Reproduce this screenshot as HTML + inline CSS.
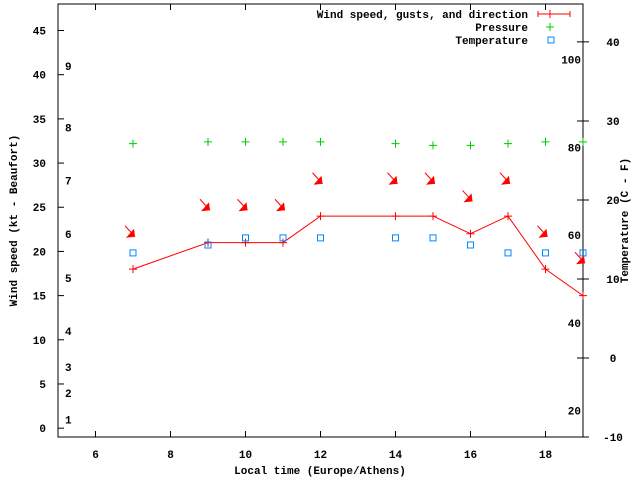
<!DOCTYPE html>
<html><head><meta charset="utf-8"><style>
body{margin:0;background:#fff}
svg text{font-family:"Liberation Mono",monospace;font-size:11px;font-weight:bold;fill:#000}
</style></head><body>
<svg id="chart" width="640" height="480" xmlns="http://www.w3.org/2000/svg">
<rect x="0" y="0" width="640" height="480" fill="#fff"/>
<g id="axes"></g><g id="marks"></g><g id="legend"></g>
</svg>
<script>
const times=[7,9,10,11,12,14,15,16,17,18,19];
const windSpeed=[18,21,21,21,24,24,24,22,24,18,15];
const gusts=[22,25,25,25,28,28,28,26,28,22,19];
const pressure=[32.2,32.4,32.4,32.4,32.4,32.2,32.0,32.0,32.2,32.4,32.4];
const temperature=[13.3,14.3,15.2,15.2,15.2,15.2,15.2,14.3,13.3,13.3,13.3];
const xTicks=[6,8,10,12,14,16,18];
const yTicks=[0,5,10,15,20,25,30,35,40,45];
const tTicks=[-10,0,10,20,30,40];
const beaufortLabels=[1,2,3,4,5,6,7,8,9];
const beaufortSpeeds=[1,4,6.9,11,17,22,28,34,41];
const fLabels=[20,40,60,80,100];

const L=58,R=583,T=4,B=437;
const X=v=>L+(v-5)/(19-5)*(R-L);
const Y=v=>B-(v+1)/(48+1)*(B-T);
const TY=v=>B-(v+10)/(44.8+10)*(B-T);
const NS="http://www.w3.org/2000/svg";
function mk(tag,attrs,parent,txt){const e=document.createElementNS(NS,tag);for(const k in attrs)e.setAttribute(k,attrs[k]);if(txt!==undefined)e.textContent=txt;parent.appendChild(e);return e;}
const ax=document.getElementById('axes'),mg=document.getElementById('marks'),lg=document.getElementById('legend');

let f=mk('rect',{x:L,y:T,width:R-L,height:B-T,fill:'none',stroke:'#000','stroke-width':1},ax);


xTicks.forEach(v=>{
  let t=mk('path',{d:`M${X(v)},${B}v-6M${X(v)},${T}v6`,stroke:'#000'},ax);
  
  
  let l=mk('text',{x:X(v),y:B+21,'text-anchor':'middle'},ax,v);
  
  
});
yTicks.forEach(v=>{
  let t=mk('path',{d:`M${L},${Y(v)}h6`,stroke:'#000'},ax);
  
  
  let l=mk('text',{x:L-12,y:Y(v)+4,'text-anchor':'end'},ax,v);
  
  
});
tTicks.forEach(v=>{
  let t=mk('path',{d:`M${R},${TY(v)}h-6M${R},${TY(v)}h6`,stroke:'#000'},ax);
  
  
  let l=mk('text',{x:R+30,y:TY(v)+4,'text-anchor':'middle'},ax,v);
  
  
});
beaufortLabels.forEach((b,i)=>{
  let l=mk('text',{x:65,y:Y(beaufortSpeeds[i])+4},ax,b);
  
  
});
fLabels.forEach(v=>{
  let l=mk('text',{x:R-2,y:TY((v-32)*5/9)+4,'text-anchor':'end'},ax,v);
  
  
});
let xt=mk('text',{x:320,y:474,'text-anchor':'middle'},ax,'Local time (Europe/Athens)');


let yt=mk('text',{x:0,y:0,'text-anchor':'middle',transform:`translate(17,${(T+B)/2}) rotate(-90)`},ax,'Wind speed (kt - Beaufort)');


let y2=mk('text',{x:0,y:0,'text-anchor':'middle',transform:`translate(628,${(T+B)/2}) rotate(-90)`},ax,'Temperature (C - F)');



// wind line
let ln=mk('polyline',{points:times.map((t,i)=>X(t)+','+Y(windSpeed[i])).join(' '),fill:'none',stroke:'#f00','stroke-width':1},mg);


times.forEach((t,i)=>{
  const x=X(t),y=Y(windSpeed[i]);
  let p=mk('path',{d:`M${x-4},${y}h8M${x},${y-4}v8`,stroke:'#f00'},mg);
  
  
  const gx=X(t)+2,gy=Y(gusts[i])+3;
  let a=mk('g',{},mg);
  
  
  mk('path',{d:`M${gx-10},${gy-11}L${gx},${gy}`,stroke:'#f00','stroke-width':1},a);
  mk('path',{d:`M${gx},${gy}L${gx-9},${gy+1}L${gx-1},${gy-8}Z`,fill:'#f00'},a);
  const px=X(t),py=Y(pressure[i]);
  let pp=mk('path',{d:`M${px-4},${py}h8M${px},${py-4}v8`,stroke:'#0c0'},mg);
  
  
  let sq=mk('rect',{x:X(t)-3,y:TY(temperature[i])-3,width:6,height:6,fill:'none',stroke:'#08f'},mg);
  
  
});
// legend
const leg=[['Wind speed, gusts, and direction',14],['Pressure',27],['Temperature',40]];
leg.forEach((e,i)=>{
  let t=mk('text',{x:528,y:e[1]+4,'text-anchor':'end'},lg,e[0]);
  
  
});
let s1=mk('path',{d:'M538,14h32M538,11v6M570,11v6M550,10v8M546,14h8',stroke:'#f00'},lg);


let s2=mk('path',{d:'M550,23v8M546,27h8',stroke:'#0c0'},lg);


let s3=mk('rect',{x:551-3,y:37,width:6,height:6,fill:'none',stroke:'#08f'},lg);


</script>
</body></html>
